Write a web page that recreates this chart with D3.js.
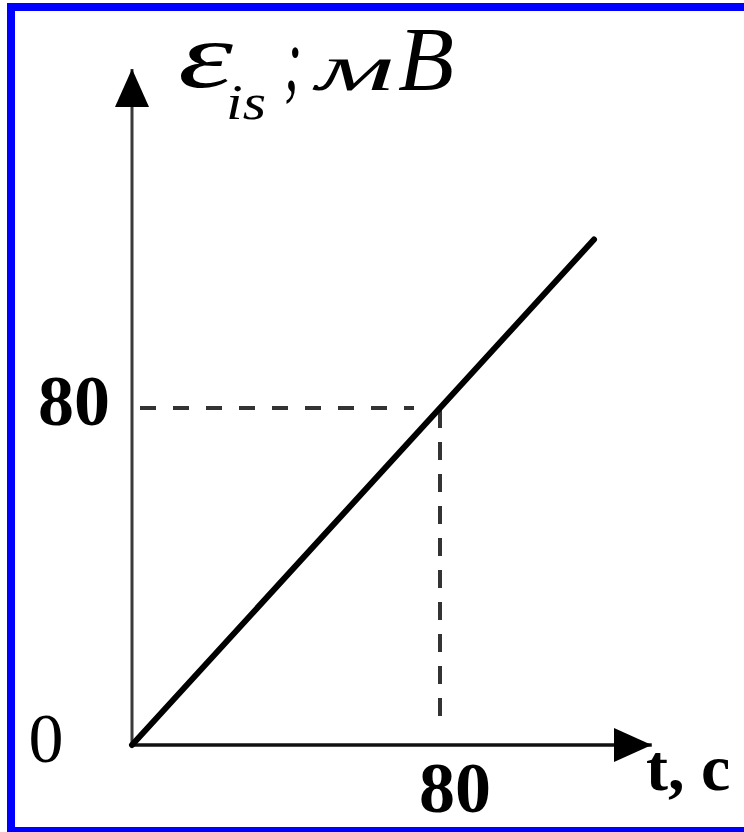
<!DOCTYPE html>
<html>
<head>
<meta charset="utf-8">
<script src="https://cdn.jsdelivr.net/npm/d3@7"></script>
<style>
  html, body { margin: 0; padding: 0; background: #fff; }
  svg { display: block; }
</style>
</head>
<body>
<svg id="chart" width="744" height="832"></svg>
<script>
// EMF of self-induction versus time: a straight line through the origin
const timeValues = [0, 120];      // t, c
const emfValues = [0, 120];       // ε_is, мВ
const markTime = 80;              // dashed guide to the point (80; 80)
const markEmf = 80;
const xTickLabels = ["80"];
const yTickLabels = ["80"];
const originLabel = "0";
const xAxisMax = 135;
const yAxisMax = 160.5;

const svg = d3.select("#chart");

// blue frame
svg.append("rect")
  .attr("x", 11).attr("y", 7)
  .attr("width", 740).attr("height", 824)
  .attr("fill", "#fff")
  .attr("stroke", "#0000ff")
  .attr("stroke-width", 8);

const x = d3.scaleLinear().domain([0, 80]).range([132, 440]);
const y = d3.scaleLinear().domain([0, 80]).range([745, 408]);

// arrowheads
const defs = svg.append("defs");
defs.append("marker")
  .attr("id", "arrow")
  .attr("viewBox", "0 0 38 34")
  .attr("refX", 38).attr("refY", 17)
  .attr("markerWidth", 38).attr("markerHeight", 34)
  .attr("markerUnits", "userSpaceOnUse")
  .attr("orient", "auto")
  .append("path")
  .attr("d", "M0,0 L38,17 L0,34 Z")
  .attr("fill", "#000");

// axes
svg.append("line")
  .attr("x1", x(0)).attr("y1", y(0))
  .attr("x2", x(0)).attr("y2", y(yAxisMax))
  .attr("stroke", "#3a3a3a").attr("stroke-width", 3)
  .attr("marker-end", "url(#arrow)");
svg.append("line")
  .attr("x1", x(0)).attr("y1", y(0))
  .attr("x2", x(xAxisMax)).attr("y2", y(0))
  .attr("stroke", "#111").attr("stroke-width", 3.5)
  .attr("marker-end", "url(#arrow)");

// dashed guides
svg.append("line")
  .attr("x1", x(0) + 8).attr("y1", y(markEmf))
  .attr("x2", x(markTime) - 26).attr("y2", y(markEmf))
  .attr("stroke", "#333").attr("stroke-width", 4)
  .attr("stroke-dasharray", "16 17");
svg.append("line")
  .attr("x1", x(markTime)).attr("y1", y(markEmf) + 2)
  .attr("x2", x(markTime)).attr("y2", y(0) - 20)
  .attr("stroke", "#333").attr("stroke-width", 4)
  .attr("stroke-dasharray", "18 14");

// the graph
const points = timeValues.map((t, i) => [t, emfValues[i]]);
svg.append("path")
  .datum(points)
  .attr("d", d3.line().x(d => x(d[0])).y(d => y(d[1])))
  .attr("fill", "none")
  .attr("stroke", "#000")
  .attr("stroke-width", 6)
  .attr("stroke-linecap", "round");

// tick labels
const serif = "'Liberation Serif', 'DejaVu Serif', serif";
svg.selectAll("text.ylab").data(yTickLabels).enter().append("text")
  .attr("class", "ylab")
  .attr("x", 74).attr("y", y(+yTickLabels[0]) + 17)
  .attr("text-anchor", "middle")
  .attr("font-family", serif).attr("font-weight", "bold").attr("font-size", 72)
  .text(d => d);
svg.selectAll("text.xlab").data(xTickLabels).enter().append("text")
  .attr("class", "xlab")
  .attr("x", x(+xTickLabels[0]) + 15).attr("y", 812)
  .attr("text-anchor", "middle")
  .attr("font-family", serif).attr("font-weight", "bold").attr("font-size", 72)
  .text(d => d);
svg.append("text")
  .attr("x", 46).attr("y", 762)
  .attr("text-anchor", "middle")
  .attr("font-family", serif).attr("font-size", 70)
  .text(originLabel);

// axis titles
svg.append("text")
  .attr("x", 646).attr("y", 790)
  .attr("font-family", serif).attr("font-weight", "bold").attr("font-size", 66)
  .text("t, c");

// ε_is ; мВ — each piece set separately so its width can be fitted
const titleParts = [
  { s: "ε",  x: 178, y: 87,  size: 94, w: 55 },
  { s: "is", x: 226, y: 119, size: 50, w: 40 },
  { s: ";",  x: 284, y: 90,  size: 92, w: 18 },
  { s: "м",  x: 316, y: 90,  size: 66, w: 78 },
  { s: "В",  x: 398, y: 90,  size: 90, w: 56 }
];
svg.selectAll("text.title").data(titleParts).enter().append("text")
  .attr("class", "title")
  .attr("x", d => d.x).attr("y", d => d.y)
  .attr("font-family", serif).attr("font-style", "italic")
  .attr("font-size", d => d.size)
  .attr("textLength", d => d.w)
  .attr("lengthAdjust", "spacingAndGlyphs")
  .text(d => d.s);
</script>
</body>
</html>
